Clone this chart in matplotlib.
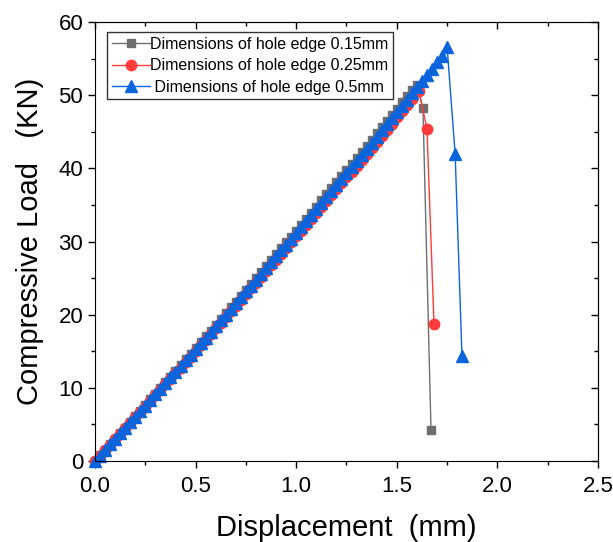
import matplotlib
matplotlib.use("Agg")
import matplotlib.pyplot as plt
from matplotlib.ticker import MultipleLocator

plt.rcParams["font.family"] = ["Liberation Sans", "DejaVu Sans"]

# load-displacement curves for three hole edge dimensions
disp_015 = [0.0, 0.025, 0.05, 0.075, 0.1, 0.125, 0.15, 0.175, 0.2, 0.225,
            0.25, 0.275, 0.3, 0.325, 0.35, 0.375, 0.4, 0.425, 0.45, 0.475,
            0.5, 0.525, 0.55, 0.575, 0.6, 0.625, 0.65, 0.675, 0.7, 0.725,
            0.75, 0.775, 0.8, 0.825, 0.85, 0.875, 0.9, 0.925, 0.95, 0.975,
            1.0, 1.025, 1.05, 1.075, 1.1, 1.125, 1.15, 1.175, 1.2, 1.225,
            1.25, 1.275, 1.3, 1.325, 1.35, 1.375, 1.4, 1.425, 1.45, 1.475,
            1.5, 1.525, 1.55, 1.575, 1.6, 1.63, 1.67]
load_015 = [0.0, 0.76, 1.52, 2.28, 3.04, 3.81, 4.57, 5.34, 6.11, 6.88,
            7.65, 8.42, 9.20, 9.97, 10.75, 11.53, 12.31, 13.09, 13.88, 14.66,
            15.45, 16.24, 17.03, 17.82, 18.61, 19.41, 20.20, 21.00, 21.80, 22.60,
            23.40, 24.20, 25.01, 25.81, 26.62, 27.43, 28.24, 29.05, 29.87, 30.68,
            31.50, 32.32, 33.14, 33.96, 34.78, 35.61, 36.43, 37.26, 38.09, 38.92,
            39.75, 40.58, 41.42, 42.25, 43.09, 43.93, 44.77, 45.61, 46.46, 47.30,
            48.15, 49.00, 49.85, 50.70, 51.4, 48.2, 4.3]

disp_025 = [0.0, 0.025, 0.05, 0.075, 0.1, 0.125, 0.15, 0.175, 0.2, 0.225,
            0.25, 0.275, 0.3, 0.325, 0.35, 0.375, 0.4, 0.425, 0.45, 0.475,
            0.5, 0.525, 0.55, 0.575, 0.6, 0.625, 0.65, 0.675, 0.7, 0.725,
            0.75, 0.775, 0.8, 0.825, 0.85, 0.875, 0.9, 0.925, 0.95, 0.975,
            1.0, 1.025, 1.05, 1.075, 1.1, 1.125, 1.15, 1.175, 1.2, 1.225,
            1.25, 1.275, 1.3, 1.325, 1.35, 1.375, 1.4, 1.425, 1.45, 1.475,
            1.5, 1.525, 1.55, 1.575, 1.61, 1.65, 1.685]
load_025 = [0.0, 0.74, 1.48, 2.22, 2.96, 3.71, 4.45, 5.20, 5.95, 6.70,
            7.45, 8.20, 8.96, 9.71, 10.47, 11.23, 11.99, 12.75, 13.52, 14.28,
            15.05, 15.82, 16.59, 17.36, 18.13, 18.91, 19.68, 20.46, 21.24, 22.02,
            22.80, 23.58, 24.37, 25.15, 25.94, 26.73, 27.52, 28.31, 29.11, 29.90,
            30.70, 31.50, 32.30, 33.10, 33.90, 34.71, 35.51, 36.32, 37.13, 37.94,
            38.75, 39.56, 40.38, 41.19, 42.01, 42.83, 43.65, 44.47, 45.30, 46.12,
            46.95, 47.78, 48.61, 49.44, 50.6, 45.4, 18.7]

disp_05 = [0.0, 0.025, 0.05, 0.075, 0.1, 0.125, 0.15, 0.175, 0.2, 0.225,
           0.25, 0.275, 0.3, 0.325, 0.35, 0.375, 0.4, 0.425, 0.45, 0.475,
           0.5, 0.525, 0.55, 0.575, 0.6, 0.625, 0.65, 0.675, 0.7, 0.725,
           0.75, 0.775, 0.8, 0.825, 0.85, 0.875, 0.9, 0.925, 0.95, 0.975,
           1.0, 1.025, 1.05, 1.075, 1.1, 1.125, 1.15, 1.175, 1.2, 1.225,
           1.25, 1.275, 1.3, 1.325, 1.35, 1.375, 1.4, 1.425, 1.45, 1.475,
           1.5, 1.525, 1.55, 1.575, 1.6, 1.625, 1.65, 1.675, 1.7, 1.725,
           1.75, 1.79, 1.824]
load_05 = [0.0, 0.75, 1.50, 2.26, 3.01, 3.77, 4.53, 5.29, 6.05, 6.81,
           7.58, 8.34, 9.11, 9.88, 10.65, 11.42, 12.19, 12.97, 13.74, 14.52,
           15.30, 16.08, 16.86, 17.65, 18.43, 19.22, 20.01, 20.80, 21.59, 22.38,
           23.18, 23.97, 24.77, 25.57, 26.37, 27.17, 27.97, 28.78, 29.58, 30.39,
           31.20, 32.01, 32.82, 33.64, 34.45, 35.27, 36.09, 36.91, 37.73, 38.55,
           39.38, 40.20, 41.03, 41.86, 42.69, 43.52, 44.35, 45.19, 46.02, 46.86,
           47.70, 48.54, 49.38, 50.23, 51.07, 51.92, 52.77, 53.62, 54.47, 55.32,
           56.6, 42.0, 14.3]

fig = plt.figure(figsize=(6.13, 5.42), dpi=100)
ax = fig.add_axes([0.155, 0.1494, 0.8205, 0.81])

ax.plot(disp_015, load_015, color="#6e6e6e", marker="s", markersize=6, linewidth=1,
        clip_on=False, label="Dimensions of hole edge 0.15mm")
ax.plot(disp_025, load_025, color="#ff3b3b", marker="o", markersize=7.5, linewidth=1,
        clip_on=False, label="Dimensions of hole edge 0.25mm")
ax.plot(disp_05, load_05, color="#0a64dc", marker="^", markersize=8, linewidth=1,
        clip_on=False, label=" Dimensions of hole edge 0.5mm")

ax.set_xlim(0, 2.5)
ax.set_ylim(0, 60)
ax.xaxis.set_major_locator(MultipleLocator(0.5))
ax.xaxis.set_minor_locator(MultipleLocator(0.25))
ax.yaxis.set_major_locator(MultipleLocator(10))
ax.yaxis.set_minor_locator(MultipleLocator(5))
ax.tick_params(which="major", direction="out", length=5, width=1, labelsize=16)
ax.tick_params(which="minor", direction="out", length=3, width=1)
ax.tick_params(axis="x", pad=6)

# mirrored ticks on top and right, pointing inward
top = ax.secondary_xaxis("top")
top.xaxis.set_major_locator(MultipleLocator(0.5))
top.xaxis.set_minor_locator(MultipleLocator(0.25))
top.tick_params(which="major", direction="in", length=5, width=1, labeltop=False)
top.tick_params(which="minor", direction="in", length=3, width=1)
right = ax.secondary_yaxis("right")
right.yaxis.set_major_locator(MultipleLocator(10))
right.yaxis.set_minor_locator(MultipleLocator(5))
right.tick_params(which="major", direction="in", length=5, width=1, labelright=False)
right.tick_params(which="minor", direction="in", length=3, width=1)

ax.set_xlabel("Displacement  (mm)", fontsize=21, labelpad=12)
ax.set_ylabel("Compressive Load   (KN)", fontsize=21, labelpad=10)

leg = ax.legend(loc="upper left", bbox_to_anchor=(0.024, 0.977), fontsize=11.5,
                frameon=True, fancybox=False, edgecolor="black", handlelength=2.4,
                handletextpad=0.0, borderpad=0.3, labelspacing=0.4, borderaxespad=0)
leg.get_frame().set_linewidth(1)

fig.savefig("out.png", dpi=100)
